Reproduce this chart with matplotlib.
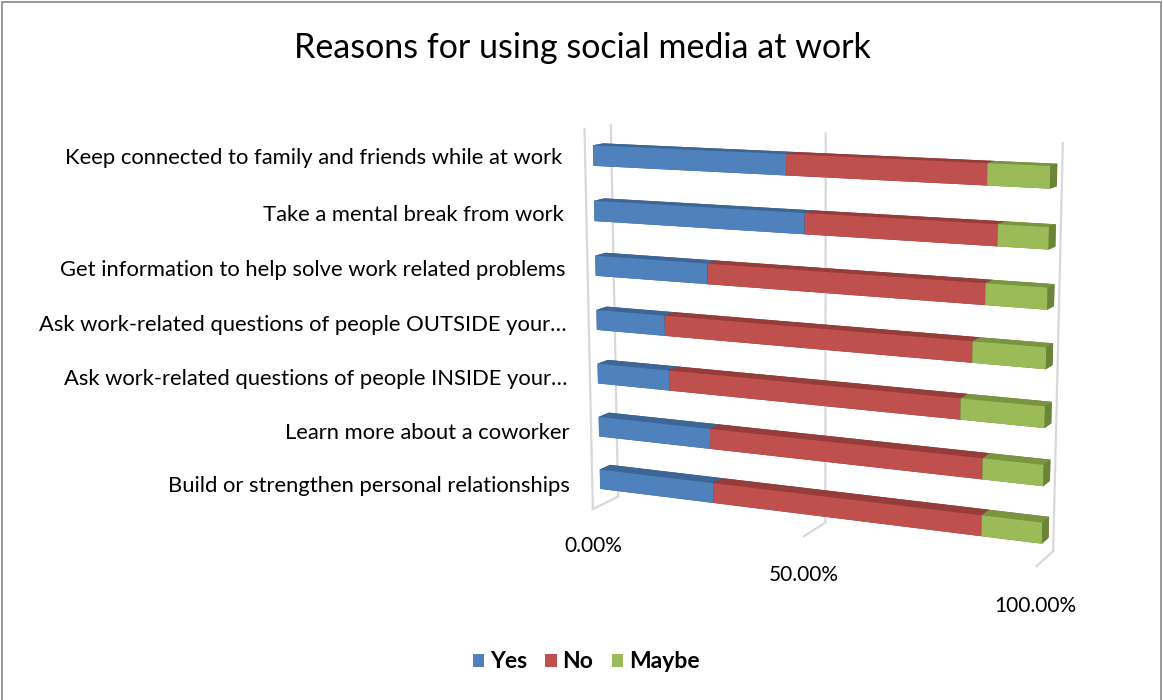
import numpy as np
import matplotlib.pyplot as plt
from matplotlib.patches import Patch, Rectangle
from mpl_toolkits.mplot3d import proj3d

plt.rcParams['font.family'] = ['Lato', 'DejaVu Sans']

# survey answers, in percent of respondents
categories = [
    "Keep connected to family and friends while at work",
    "Take a mental break from work",
    "Get information to help solve work related problems",
    "Ask work-related questions of people OUTSIDE your…",
    "Ask work-related questions of people INSIDE your…",
    "Learn more about a coworker",
    "Build or strengthen personal relationships",
]
yes = [44.7, 48.8, 26.7, 16.5, 17.3, 26.9, 27.5]
no = [42.7, 40.9, 60.7, 68.4, 65.3, 60.5, 59.9]
maybe = [12.6, 10.3, 12.6, 15.1, 17.4, 12.6, 12.6]
series = ["Yes", "No", "Maybe"]
ticks = [0, 50, 100]
tick_labels = ["0.00%", "50.00%", "100.00%"]

front_colors = ["#4F81BD", "#C0504D", "#9BBB59"]
top_colors = ["#3D6696", "#963D3B", "#7A9440"]
side_colors = ["#365C88", "#85332F", "#6B8538"]

n = len(categories)
depth = 11.0      # depth of the floor, in value units
bar_h = 0.37      # bar thickness, in category units

W, H = 1163, 700
fig = plt.figure(figsize=(W / 100, H / 100), dpi=100)

size = 616
ax = fig.add_axes([(815 - 0.514 * size) / W, (364 - 0.514 * size) / H, size / W, size / H],
                  projection='3d', computed_zorder=False)
ax.set_proj_type('persp', focal_length=0.6)
ax.view_init(elev=11, azim=-66)
ax.set_box_aspect((1, 0.11, 0.82))
ax.set_xlim(0, 100, view_margin=0)
ax.set_ylim(0, depth, view_margin=0)
ax.set_zlim(0, n, view_margin=0)
ax.set_axis_off()

# walls: gridlines on the back wall and floor, plus the side wall edge
grid_kw = dict(color="#D9D9D9", lw=1.6, zorder=1)
for t in ticks:
    ax.plot([t, t], [depth, depth], [0, n], **grid_kw)
    ax.plot([t, t], [0, depth], [0, 0], **grid_kw)
ax.plot([0, 0], [0, 0], [0, n], **grid_kw)

# stacked bars, first category on top
xs, ys, zs, dxs, dys, dzs, fc = [], [], [], [], [], [], []
for i in range(n):
    left = 0.0
    for j, vals in enumerate([yes, no, maybe]):
        xs.append(left)
        ys.append(0.3 * depth)
        zs.append(n - 0.5 - i - bar_h / 2)
        dxs.append(vals[i])
        dys.append(0.4 * depth)
        dzs.append(bar_h)
        # face order: -z, +z, -y, +y, -x, +x
        fc += [side_colors[j], top_colors[j], front_colors[j],
               side_colors[j], side_colors[j], side_colors[j]]
        left += vals[i]
ax.bar3d(xs, ys, zs, dxs, dys, dzs, color=fc, shade=False, linewidth=0, zorder=2)

# labels sit at projected 3D anchor points, drawn as flat text
M = ax.get_proj()


def label_at(x, y, z, s, **kw):
    px, py, _ = proj3d.proj_transform(x, y, z, M)
    ax.text2D(px, py, s, transform=ax.transData, color='black', zorder=3, **kw)


for i, cat in enumerate(categories):
    label_at(-7.5, 0.3 * depth, n - 0.58 - 1.02 * i, cat, ha='right', va='center',
             fontsize=15.8)

for t, lab in zip(ticks, tick_labels):
    label_at(t, 0, -0.7, lab, ha='center', va='center', fontsize=15)

fig.text(582 / W, 1 - 48 / H, "Reasons for using social media at work",
         ha='center', va='center', fontsize=24.5)

handles = [Patch(facecolor=c, edgecolor='none') for c in front_colors]
fig.legend(handles, series, loc='center', bbox_to_anchor=(586 / W, 1 - 662 / H),
           ncol=3, frameon=False, prop={'weight': 'bold', 'size': 16.5},
           handlelength=0.5, handleheight=0.5, handletextpad=0.25, columnspacing=0.8)

# chart border
fig.patches.append(Rectangle((1.5 / W, -0.01), 1159.5 / W, 1.0 - 2 / H + 0.01,
                             transform=fig.transFigure, fill=False,
                             edgecolor='#878787', lw=1.2))

fig.savefig("out.png", dpi=100)
